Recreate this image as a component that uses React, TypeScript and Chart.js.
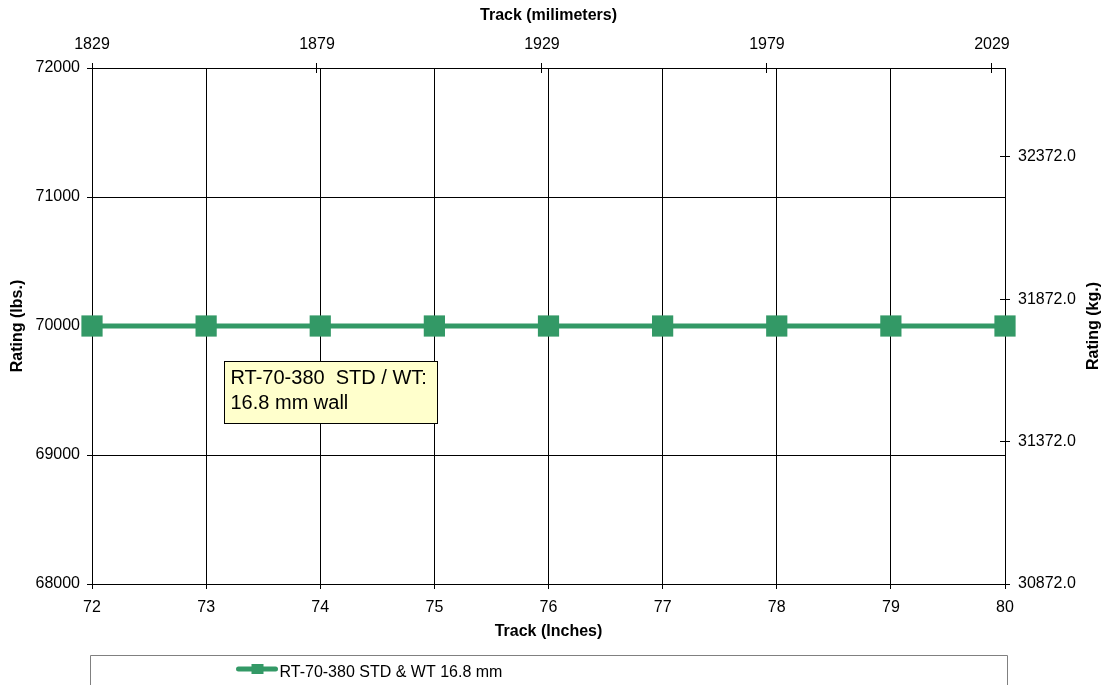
import React, { useEffect, useRef } from "react";
import { Chart, registerables } from "chart.js";

Chart.register(...registerables);

// Series: rating versus track width
const trackInches = [72, 73, 74, 75, 76, 77, 78, 79, 80];
const ratingLbs = [70000, 70000, 70000, 70000, 70000, 70000, 70000, 70000, 70000];
const seriesLabel = "RT-70-380 STD & WT 16.8 mm";

// Axis ticks
const inchTicks = [72, 73, 74, 75, 76, 77, 78, 79, 80];
const lbsTicks = [68000, 69000, 70000, 71000, 72000];
const mmTicks = [1829, 1879, 1929, 1979, 2029];
const kgTicks = [30872, 31372, 31872, 32372];

// Callout text
const noteLines = ["RT-70-380  STD / WT:", "16.8 mm wall"];

const FONT = "'Liberation Sans', Arial, Helvetica, sans-serif";
const GREEN = "#339966";

const align = (p: number) => Math.round(p - 0.5) + 0.5;

// Tick marks that cross each axis line
const crossTicks = {
  id: "crossTicks",
  beforeDatasetsDraw(chart: any) {
    const ctx = chart.ctx;
    const { left, right, top, bottom } = chart.chartArea;
    const L = 5;
    ctx.save();
    ctx.strokeStyle = "#000";
    ctx.lineWidth = 1;
    ctx.beginPath();
    const sx = chart.scales.x;
    sx.ticks.forEach((t: any) => {
      const p = align(sx.getPixelForValue(t.value));
      ctx.moveTo(p, bottom - L);
      ctx.lineTo(p, bottom + L);
    });
    const sx2 = chart.scales.x2;
    sx2.ticks.forEach((t: any) => {
      const p = align(sx2.getPixelForValue(t.value));
      ctx.moveTo(p, top - L);
      ctx.lineTo(p, top + L);
    });
    const sy = chart.scales.y;
    sy.ticks.forEach((t: any) => {
      const p = align(sy.getPixelForValue(t.value));
      ctx.moveTo(left - L, p);
      ctx.lineTo(left + L, p);
    });
    const sy2 = chart.scales.y2;
    sy2.ticks.forEach((t: any) => {
      const p = align(sy2.getPixelForValue(t.value));
      ctx.moveTo(right - L, p);
      ctx.lineTo(right + L, p);
    });
    ctx.stroke();
    ctx.restore();
  },
};

// Yellow callout box anchored in data coordinates
const noteBox = {
  id: "noteBox",
  afterDatasetsDraw(chart: any) {
    const ctx = chart.ctx;
    const x = align(chart.scales.x.getPixelForValue(73.165));
    const y = align(chart.scales.y.getPixelForValue(69721));
    const w = 213;
    const h = 62;
    ctx.save();
    ctx.fillStyle = "#FFFFCC";
    ctx.fillRect(x, y, w, h);
    ctx.strokeStyle = "#000";
    ctx.lineWidth = 1;
    ctx.strokeRect(x, y, w, h);
    ctx.fillStyle = "#000";
    ctx.font = `20px ${FONT}`;
    ctx.textAlign = "left";
    ctx.textBaseline = "alphabetic";
    noteLines.forEach((line, i) => {
      ctx.fillText(line, x + 6, y + 22.5 + i * 24.5);
    });
    ctx.restore();
  },
};

// Right-hand axis title, reading bottom to top
const kgTitle = {
  id: "kgTitle",
  afterDraw(chart: any) {
    const ctx = chart.ctx;
    const { top, bottom } = chart.chartArea;
    ctx.save();
    ctx.translate(chart.width - 13.5, (top + bottom) / 2);
    ctx.rotate(-Math.PI / 2);
    ctx.fillStyle = "#000";
    ctx.font = `bold 16px ${FONT}`;
    ctx.textAlign = "center";
    ctx.textBaseline = "middle";
    ctx.fillText("Rating (kg.)", 0, 0);
    ctx.restore();
  },
};

// Boxed legend below the plot
const seriesLegend = {
  id: "seriesLegend",
  afterDraw(chart: any) {
    const ctx = chart.ctx;
    const { left, right, bottom } = chart.chartArea;
    const bx = align(left - 2);
    const bxr = align(right + 2);
    const by = align(bottom + 71);
    ctx.save();
    ctx.strokeStyle = "#808080";
    ctx.lineWidth = 1;
    ctx.beginPath();
    ctx.moveTo(bx, chart.height + 5);
    ctx.lineTo(bx, by);
    ctx.lineTo(bxr, by);
    ctx.lineTo(bxr, chart.height + 5);
    ctx.stroke();

    const ds = chart.data.datasets[0];
    const lx = bx + 148;
    const ly = by + 13.5;
    ctx.strokeStyle = ds.borderColor;
    ctx.lineWidth = 5;
    ctx.lineCap = "round";
    ctx.beginPath();
    ctx.moveTo(lx, ly);
    ctx.lineTo(lx + 37, ly);
    ctx.stroke();
    ctx.fillStyle = ds.borderColor;
    ctx.fillRect(lx + 13, ly - 5, 12, 10);

    ctx.fillStyle = "#000";
    ctx.font = `16px ${FONT}`;
    ctx.textAlign = "left";
    ctx.textBaseline = "alphabetic";
    ctx.fillText(ds.label, lx + 41, by + 21.5);
    ctx.restore();
  },
};

export default function App() {
  const canvasRef = useRef<HTMLCanvasElement | null>(null);

  useEffect(() => {
    const canvas = canvasRef.current;
    if (!canvas) return;
    Chart.defaults.font.family = FONT;
    Chart.defaults.color = "#000";

    const tickFont = { size: 16 };
    const titleFont = { size: 16, weight: "bold" as const };

    const chart = new Chart(canvas, {
      type: "line",
      data: {
        datasets: [
          {
            label: seriesLabel,
            data: trackInches.map((x, i) => ({ x, y: ratingLbs[i] })),
            borderColor: GREEN,
            backgroundColor: GREEN,
            borderWidth: 5,
            pointStyle: "rect",
            pointRadius: 15,
            pointHoverRadius: 15,
            pointBackgroundColor: GREEN,
            pointBorderColor: GREEN,
            pointBorderWidth: 0,
            clip: false,
            xAxisID: "x",
            yAxisID: "y",
          } as any,
        ],
      },
      options: {
        animation: false,
        responsive: false,
        devicePixelRatio: 1,
        events: [],
        layout: { padding: 0 },
        plugins: {
          legend: { display: false },
          tooltip: { enabled: false },
        },
        scales: {
          x: {
            type: "linear",
            position: "bottom",
            min: 72,
            max: 80,
            afterBuildTicks: (s: any) => {
              s.ticks = inchTicks.map((v) => ({ value: v }));
            },
            ticks: {
              padding: 14,
              color: "#000",
              font: tickFont,
              callback: (v: any) => String(v),
            },
            grid: { color: "#000", lineWidth: 1, drawTicks: false },
            border: { color: "#000", width: 1 },
            title: {
              display: true,
              text: "Track (Inches)",
              color: "#000",
              font: titleFont,
              padding: { top: 0, bottom: 44 },
            },
            afterFit: (s: any) => {
              s.height = 101;
            },
          },
          x2: {
            type: "linear",
            position: "top",
            min: 1829,
            max: 2031.9,
            afterBuildTicks: (s: any) => {
              s.ticks = mmTicks.map((v) => ({ value: v }));
            },
            ticks: {
              padding: 14,
              color: "#000",
              font: tickFont,
              callback: (v: any) => String(v),
            },
            grid: { drawOnChartArea: false, drawTicks: false },
            border: { color: "#000", width: 1 },
            title: {
              display: true,
              text: "Track (milimeters)",
              color: "#000",
              font: titleFont,
              padding: { top: 6, bottom: 0 },
            },
            afterFit: (s: any) => {
              s.height = 68;
            },
          },
          y: {
            type: "linear",
            position: "left",
            min: 68000,
            max: 72000,
            afterBuildTicks: (s: any) => {
              s.ticks = lbsTicks.map((v) => ({ value: v }));
            },
            ticks: {
              padding: 12,
              color: "#000",
              font: tickFont,
              callback: (v: any) => String(v),
            },
            grid: { color: "#000", lineWidth: 1, drawTicks: false },
            border: { color: "#000", width: 1 },
            title: {
              display: true,
              text: "Rating (lbs.)",
              color: "#000",
              font: titleFont,
              padding: { top: 8, bottom: 0 },
            },
            afterFit: (s: any) => {
              s.width = 92;
            },
          },
          y2: {
            type: "linear",
            position: "right",
            z: 1,
            min: 30872,
            max: 32684,
            afterBuildTicks: (s: any) => {
              s.ticks = kgTicks.map((v) => ({ value: v }));
            },
            ticks: {
              padding: 13,
              color: "#000",
              font: tickFont,
              callback: (v: any) => Number(v).toFixed(1),
            },
            grid: { drawOnChartArea: false, drawTicks: false },
            border: { color: "#000", width: 1 },
            afterFit: (s: any) => {
              s.width = 102;
            },
          },
        },
      } as any,
      plugins: [crossTicks, noteBox, kgTitle, seriesLegend],
    });

    return () => chart.destroy();
  }, []);

  return (
    <div style={{ position: "absolute", left: 0, top: 0, width: 1107, height: 685, background: "#fff" }}>
      <canvas ref={canvasRef} width={1107} height={685} style={{ display: "block" }} />
    </div>
  );
}
